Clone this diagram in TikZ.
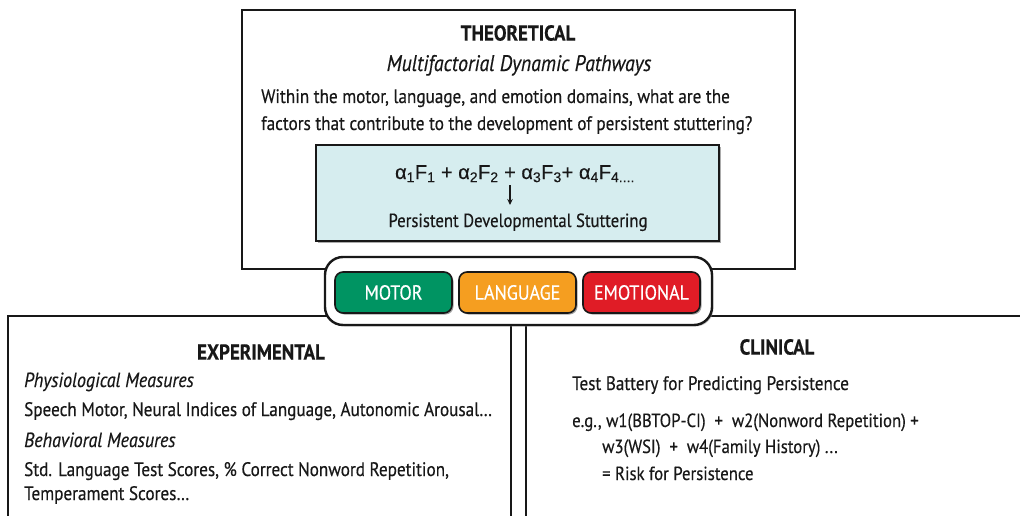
\documentclass[tikz,border=0pt]{standalone}
\usepackage{fontspec}
\setmainfont{PT Sans}[FakeStretch=0.88, FakeBold=0.4]
\newfontfamily\formfont{Liberation Sans}[FakeBold=0.3]
\usetikzlibrary{shadows,arrows.meta}
\definecolor{ink}{RGB}{24,24,24}
\definecolor{tealfill}{RGB}{214,237,239}
\definecolor{motorgreen}{RGB}{0,148,98}
\definecolor{langorange}{RGB}{245,158,32}
\definecolor{emored}{RGB}{224,28,38}
\tikzset{
  frame/.style={draw=ink, line width=2.4pt, inner sep=0pt},
  tealbox/.style={draw=ink, line width=2pt, fill=tealfill, inner sep=0pt,
    drop shadow={shadow xshift=2pt, shadow yshift=-2pt, fill=black!55, opacity=0.6}},
  pillbox/.style={draw=ink, line width=2.4pt, fill=white, rounded corners=18pt, inner sep=0pt},
  btn/.style={draw=ink, line width=1.6pt, rounded corners=8pt, inner sep=0pt,
    minimum width=117pt, minimum height=41pt, text=white,
    font=\fontsize{20.5}{22}\selectfont,
    drop shadow={shadow xshift=1.5pt, shadow yshift=-1.5pt, fill=black!60, opacity=0.6}},
  ttl/.style={inner sep=0pt, text=ink, font=\fontsize{21.6}{24}\bfseries\selectfont},
  subttl/.style={inner sep=0pt, text=ink, font=\fontsize{22.5}{26}\itshape\selectfont},
  ital/.style={inner sep=0pt, text=ink, font=\fontsize{20.5}{24}\itshape\selectfont},
  body/.style={inner sep=0pt, text=ink, font=\fontsize{19.5}{23}\selectfont},
  small/.style={inner sep=0pt, text=ink, font=\fontsize{19}{22}\selectfont},
}
\begin{document}
\begin{tikzpicture}[x=1pt,y=-1pt]
\path[use as bounding box] (0,0) rectangle (1020,516);
\clip (0,0) rectangle (1020,516);
% frames
\node[frame, minimum width=553pt, minimum height=259pt] (theo) at (518.5,139.5) {};
\node[frame, minimum width=503pt, minimum height=240pt] (exp) at (259.5,436) {};
\node[frame, minimum width=520pt, minimum height=240pt] (clin) at (786,436) {};
% theoretical texts
\node[ttl] (theoT) at (518,33) {THEORETICAL};
\node[subttl, anchor=base] (theoS) at (519,71) {Multifactorial Dynamic Pathways};
\node[body, anchor=base west] (q1) at (261,103) {Within the motor, language, and emotion domains, what are the};
\node[body, anchor=base west] (q2) at (261,130) {factors that contribute to the development of persistent stuttering?};
% teal box
\node[tealbox, minimum width=403pt, minimum height=96pt] (model) at (517.5,193) {};
\node[inner sep=0pt, text=ink, anchor=base, font=\formfont\fontsize{20}{23}\selectfont] (form) at (515,179)
  {α\textsubscript{1}F\textsubscript{1} + α\textsubscript{2}F\textsubscript{2} + α\textsubscript{3}F\textsubscript{3}+ α\textsubscript{4}F\textsubscript{4....}};
\node[small, anchor=base] (pds) at (518,227) {Persistent Developmental Stuttering};
\coordinate (arrA) at (510,185);
\coordinate (arrB) at (510,205);
\draw[ink, line width=1.4pt, -{Stealth[length=6pt,width=5.5pt]}] (arrA) -- (arrB);
% pill
\node[pillbox, minimum width=387pt, minimum height=68pt,
  drop shadow={shadow xshift=1.5pt, shadow yshift=-1.5pt, fill=black!40, opacity=0.5}] (pill) at (518.5,291) {};
\node[btn, fill=motorgreen] (motor) at (393.5,292.5) {MOTOR};
\node[btn, fill=langorange] (lang) at (517.5,292.5) {LANGUAGE};
\node[btn, fill=emored] (emo) at (641.5,292.5) {EMOTIONAL};
% experimental
\node[ttl] (expT) at (261,352) {EXPERIMENTAL};
\node[ital, anchor=base west] (e1) at (24,387) {Physiological Measures};
\node[body, anchor=base west] (e2) at (24,416) {Speech Motor, Neural Indices of Language, Autonomic Arousal…};
\node[ital, anchor=base west] (e3) at (24,447) {Behavioral Measures};
\node[body, anchor=base west] (e4) at (24,476) {Std. Language Test Scores, \% Correct Nonword Repetition,};
\node[body, anchor=base west] (e5) at (24,500) {Temperament Scores…};
% clinical
\node[ttl] (clinT) at (777,347) {CLINICAL};
\node[body, anchor=base west] (c1) at (572,390) {Test Battery for Predicting Persistence};
\node[small, anchor=base west] (c2) at (572,427) {e.g., w1(BBTOP-CI) \ + \ w2(Nonword Repetition) +};
\node[small, anchor=base west] (c3) at (602,453) {w3(WSI) \ + \ w4(Family History) ...};
\node[small, anchor=base west] (c4) at (602,480) {= Risk for Persistence};
\end{tikzpicture}
\end{document}
